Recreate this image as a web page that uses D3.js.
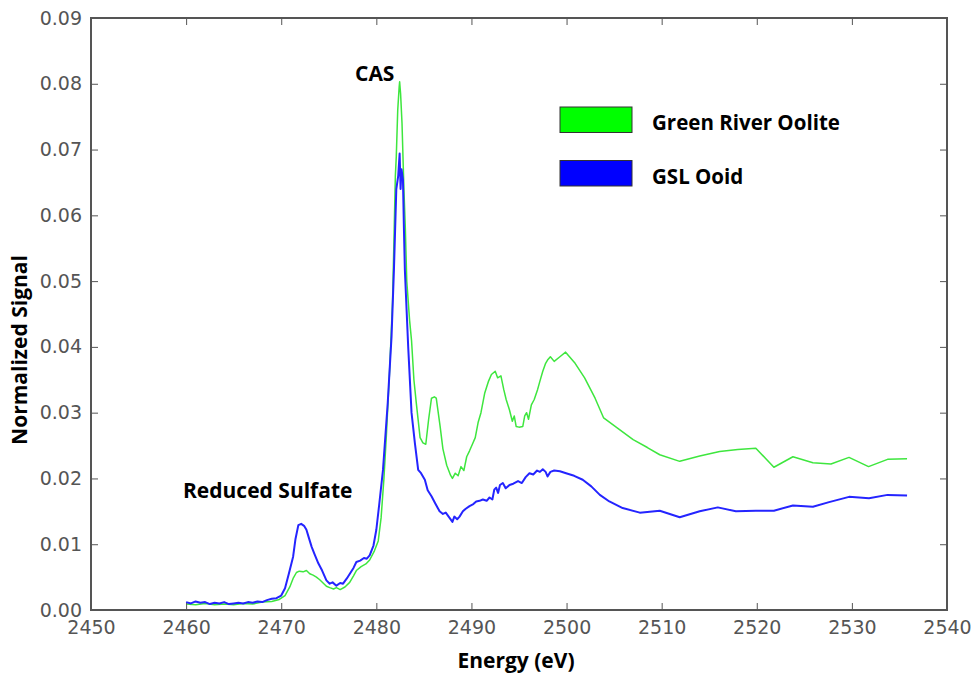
<!DOCTYPE html>
<html>
<head>
<meta charset="utf-8">
<script src="https://cdn.jsdelivr.net/npm/d3@7"></script>
<style>
body { margin: 0; background: #fff; }
</style>
</head>
<body>
<script>
var w = 974;
var h = 675;

// Green River Oolite
var greenE = [2460, 2461, 2462, 2463, 2464, 2465, 2466, 2467, 2468, 2469, 2469.8, 2470.4, 2470.9, 2471.25, 2471.6, 2471.9, 2472.3, 2472.65, 2473.0, 2473.35, 2473.7, 2474.05, 2474.4, 2474.75, 2475.1, 2475.5, 2475.8, 2476.2, 2476.7, 2477.2, 2477.6, 2477.9, 2478.4, 2478.9, 2479.3, 2479.8, 2480.2, 2480.5, 2480.8, 2481.05, 2481.4, 2481.7, 2481.85, 2482.0, 2482.1, 2482.25, 2482.4, 2482.45, 2482.55, 2482.7, 2482.9, 2483.05, 2483.2, 2483.5, 2483.7, 2483.95, 2484.2, 2484.6, 2484.9, 2485.2, 2485.5, 2485.8, 2486.1, 2486.3, 2486.7, 2487.0, 2487.4, 2487.8, 2488.0, 2488.3, 2488.6, 2488.9, 2489.2, 2489.5, 2489.8, 2490.1, 2490.4, 2490.7, 2491.0, 2491.4, 2491.8, 2492.1, 2492.5, 2492.75, 2493.1, 2493.4, 2493.65, 2494.0, 2494.3, 2494.5, 2494.7, 2495.0, 2495.4, 2495.6, 2495.8, 2496.0, 2496.3, 2496.6, 2496.95, 2497.2, 2497.5, 2497.8, 2498.0, 2498.3, 2498.7, 2499.3, 2499.9, 2500.9, 2501.9, 2503.0, 2503.9, 2505.5, 2507.0, 2508.5, 2509.8, 2511.9, 2514.0, 2516.1, 2518.0, 2519.9, 2521.8, 2523.8, 2525.9, 2527.8, 2529.7, 2531.75, 2533.75, 2535.8];
var greenV = [0.0009, 0.0008, 0.0010, 0.0008, 0.0009, 0.0008, 0.0010, 0.0009, 0.0012, 0.0013, 0.0016, 0.0022, 0.0035, 0.0048, 0.0057, 0.0059, 0.0058, 0.0060, 0.0055, 0.0053, 0.0050, 0.0046, 0.0041, 0.0036, 0.0034, 0.0032, 0.0034, 0.0031, 0.0035, 0.0042, 0.0052, 0.0060, 0.0066, 0.0070, 0.0076, 0.0090, 0.0105, 0.0140, 0.0200, 0.0264, 0.0365, 0.0467, 0.0560, 0.0660, 0.0690, 0.0760, 0.0795, 0.0803, 0.0785, 0.0740, 0.0640, 0.0580, 0.0500, 0.0440, 0.0410, 0.0350, 0.0315, 0.0262, 0.0254, 0.0252, 0.0290, 0.0322, 0.0324, 0.0322, 0.0280, 0.0245, 0.0220, 0.0205, 0.0200, 0.0208, 0.0204, 0.0218, 0.0212, 0.0233, 0.0242, 0.0252, 0.0262, 0.0285, 0.0300, 0.0330, 0.0348, 0.0358, 0.0363, 0.0353, 0.0356, 0.0335, 0.0320, 0.0304, 0.0287, 0.0295, 0.0279, 0.0278, 0.0279, 0.0295, 0.0300, 0.0290, 0.0312, 0.0320, 0.0335, 0.0348, 0.0363, 0.0375, 0.0380, 0.0385, 0.0378, 0.0385, 0.0392, 0.0375, 0.0353, 0.0322, 0.0292, 0.0275, 0.0259, 0.0247, 0.0236, 0.0226, 0.0234, 0.0241, 0.0244, 0.0246, 0.0217, 0.0233, 0.0224, 0.0222, 0.0232, 0.0218, 0.0229, 0.0230];

// GSL Ooid
var blueE = [2460, 2460.5, 2461, 2461.5, 2462, 2462.5, 2463, 2463.5, 2464, 2464.5, 2465, 2465.5, 2466, 2466.5, 2467, 2467.5, 2468, 2468.5, 2469, 2469.5, 2470, 2470.4, 2470.8, 2471.25, 2471.5, 2471.8, 2472.1, 2472.4, 2472.65, 2472.9, 2473.2, 2473.5, 2473.9, 2474.3, 2474.75, 2475.1, 2475.4, 2475.8, 2476.2, 2476.5, 2476.9, 2477.3, 2477.6, 2477.9, 2478.3, 2478.7, 2479.0, 2479.3, 2479.7, 2480.0, 2480.3, 2480.7, 2481.2, 2481.6, 2481.85, 2482.1, 2482.3, 2482.45, 2482.55, 2482.65, 2482.8, 2482.9, 2483.0, 2483.35, 2483.7, 2484.05, 2484.4, 2484.7, 2485.1, 2485.4, 2485.8, 2486.2, 2486.65, 2487.0, 2487.3, 2487.7, 2488.0, 2488.2, 2488.5, 2488.75, 2489.1, 2489.4, 2489.8, 2490.2, 2490.5, 2490.85, 2491.2, 2491.6, 2491.9, 2492.2, 2492.4, 2492.6, 2492.8, 2493.0, 2493.3, 2493.6, 2494.0, 2494.4, 2494.9, 2495.3, 2495.7, 2496.1, 2496.5, 2496.9, 2497.2, 2497.5, 2497.8, 2498.0, 2498.3, 2498.7, 2499.3, 2499.95, 2500.8, 2501.7, 2502.6, 2503.5, 2504.5, 2505.9, 2507.7, 2509.8, 2511.9, 2514.0, 2515.9, 2517.8, 2519.9, 2521.8, 2523.8, 2525.9, 2527.6, 2529.7, 2531.8, 2533.75, 2535.8];
var blueV = [0.0012, 0.0010, 0.0013, 0.0011, 0.0012, 0.0009, 0.0011, 0.0010, 0.0012, 0.0009, 0.0010, 0.0011, 0.0010, 0.0012, 0.0011, 0.0013, 0.0012, 0.0015, 0.0017, 0.0018, 0.0022, 0.0033, 0.0055, 0.0081, 0.0108, 0.0129, 0.0131, 0.0128, 0.0122, 0.0110, 0.0096, 0.0085, 0.0071, 0.0060, 0.0045, 0.0040, 0.0042, 0.0037, 0.0041, 0.0040, 0.0048, 0.0057, 0.0064, 0.0073, 0.0075, 0.0079, 0.0078, 0.0083, 0.0098, 0.0122, 0.0160, 0.0213, 0.0315, 0.0416, 0.0517, 0.0640, 0.0660, 0.0694, 0.0640, 0.0670, 0.0654, 0.0580, 0.0517, 0.0400, 0.0300, 0.0254, 0.0213, 0.0208, 0.0198, 0.0182, 0.0173, 0.0162, 0.0150, 0.0146, 0.0148, 0.0140, 0.0134, 0.0142, 0.0138, 0.0142, 0.0150, 0.0154, 0.0158, 0.0161, 0.0165, 0.0166, 0.0168, 0.0166, 0.0171, 0.0168, 0.0183, 0.0186, 0.0178, 0.0190, 0.0193, 0.0185, 0.0190, 0.0192, 0.0196, 0.0193, 0.0202, 0.0208, 0.0206, 0.0212, 0.0210, 0.0214, 0.0210, 0.0203, 0.0210, 0.0212, 0.0211, 0.0208, 0.0204, 0.0198, 0.0188, 0.0175, 0.0165, 0.0155, 0.0148, 0.0151, 0.0141, 0.0150, 0.0156, 0.0150, 0.0151, 0.0151, 0.0159, 0.0157, 0.0164, 0.0172, 0.0170, 0.0175, 0.0174];

var xTicks = [2450, 2460, 2470, 2480, 2490, 2500, 2510, 2520, 2530, 2540];
var yTicks = [0.00, 0.01, 0.02, 0.03, 0.04, 0.05, 0.06, 0.07, 0.08, 0.09];
var seriesNames = ["Green River Oolite", "GSL Ooid"];
var seriesColors = ["#00ff00", "#0000ff"];

var plotL = 91, plotR = 947, plotT = 18, plotB = 610;
var axisColor = "#555";
var tickFont = "DejaVu Sans, sans-serif";
var labelFont = "'Open Sans', sans-serif";

var svg = d3.select("body").append("svg")
    .attr("width", w)
    .attr("height", h);

var x = d3.scaleLinear().domain([2450, 2540]).range([plotL, plotR]);
var y = d3.scaleLinear().domain([0, 0.09]).range([plotB, plotT]);

var line = d3.line()
    .x(function(d) { return x(d[0]); })
    .y(function(d) { return y(d[1]); });

var green = d3.zip(greenE, greenV);
var blue = d3.zip(blueE, blueV);

svg.append("path").datum(green)
    .attr("d", line)
    .attr("fill", "none")
    .attr("stroke", "#3ee63e")
    .attr("stroke-width", 1.5)
    .attr("stroke-linejoin", "round");

svg.append("path").datum(blue)
    .attr("d", line)
    .attr("fill", "none")
    .attr("stroke", "#2424ff")
    .attr("stroke-width", 2)
    .attr("stroke-linejoin", "round");

// axes: ticks inward on all four sides, labels on left and bottom
var xAxis = svg.append("g").attr("transform", "translate(0," + plotB + ")")
    .call(d3.axisBottom(x).tickValues(xTicks).tickSizeInner(-7).tickSizeOuter(0).tickPadding(10).tickFormat(d3.format("d")));
var xAxisTop = svg.append("g").attr("transform", "translate(0," + plotT + ")")
    .call(d3.axisTop(x).tickValues(xTicks).tickSizeInner(-7).tickSizeOuter(0).tickFormat(""));
var yAxis = svg.append("g").attr("transform", "translate(" + plotL + ",0)")
    .call(d3.axisLeft(y).tickValues(yTicks).tickSizeInner(-7).tickSizeOuter(0).tickPadding(9).tickFormat(d3.format(".2f")));
var yAxisRight = svg.append("g").attr("transform", "translate(" + plotR + ",0)")
    .call(d3.axisRight(y).tickValues(yTicks).tickSizeInner(-7).tickSizeOuter(0).tickFormat(""));

[xAxis, xAxisTop, yAxis, yAxisRight].forEach(function(g) {
    g.select(".domain").remove();
    g.selectAll(".tick line").attr("stroke", axisColor).attr("stroke-width", 1);
    g.selectAll(".tick text")
        .attr("fill", "#555")
        .style("font-family", tickFont)
        .style("font-size", "19px");
});
xAxis.selectAll(".tick text").attr("dy", "0.72em");

svg.append("rect")
    .attr("x", plotL).attr("y", plotT)
    .attr("width", plotR - plotL).attr("height", plotB - plotT)
    .attr("fill", "none")
    .attr("stroke", axisColor)
    .attr("stroke-width", 2);

// axis titles
svg.append("text")
    .attr("x", 516)
    .attr("y", 668)
    .attr("text-anchor", "middle")
    .style("font-family", labelFont)
    .style("font-weight", 700)
    .style("font-size", "21px")
    .text("Energy (eV)");

svg.append("text")
    .attr("transform", "translate(27,350) rotate(-90)")
    .attr("text-anchor", "middle")
    .style("font-family", labelFont)
    .style("font-weight", 700)
    .style("font-size", "21px")
    .text("Normalized Signal");

// annotations
svg.append("text")
    .attr("x", 355).attr("y", 81)
    .style("font-family", labelFont)
    .style("font-weight", 700)
    .style("font-size", "21px")
    .text("CAS");

svg.append("text")
    .attr("x", 183).attr("y", 498)
    .style("font-family", labelFont)
    .style("font-weight", 700)
    .style("font-size", "21px")
    .text("Reduced Sulfate");

// legend
var legend = svg.append("g").selectAll("g").data(seriesNames).enter()
    .append("g")
    .attr("transform", function(d, i) { return "translate(560," + (107 + i * 53.5) + ")"; });

legend.append("rect")
    .attr("width", 72).attr("height", 25.5)
    .attr("fill", function(d, i) { return seriesColors[i]; })
    .attr("stroke", "#333")
    .attr("stroke-width", 1);

legend.append("text")
    .attr("x", 92).attr("y", 23)
    .style("font-family", labelFont)
    .style("font-weight", 700)
    .style("font-size", "20.5px")
    .text(function(d) { return d; });
</script>
</body>
</html>
